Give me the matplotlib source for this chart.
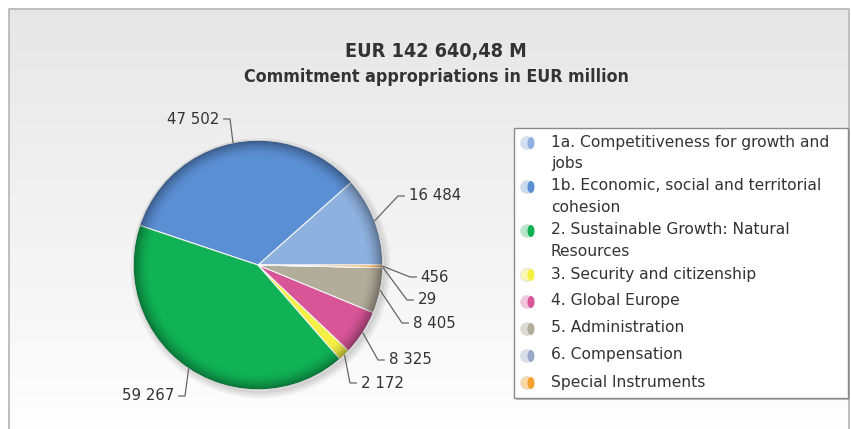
import numpy as np
import matplotlib
matplotlib.use('Agg')
import matplotlib.pyplot as plt
from matplotlib.patches import Circle, Ellipse, Rectangle

# data
categories = ['1a. Competitiveness for growth and\njobs',
              '1b. Economic, social and territorial\ncohesion',
              '2. Sustainable Growth: Natural\nResources',
              '3. Security and citizenship',
              '4. Global Europe',
              '5. Administration',
              '6. Compensation',
              'Special Instruments']
values = [16484, 47502, 59267, 2172, 8325, 8405, 29, 456]
value_labels = ['16 484', '47 502', '59 267', '2 172', '8 325', '8 405', '29', '456']
colors = ['#8eb1df', '#5b8fd4', '#10b255', '#f4ef45', '#d85598', '#b2ac9b', '#9aa8c8', '#f5a030']
light_colors = ['#d3e0f2', '#c9d9f0', '#b8e6c9', '#faf7b5', '#f2c3db', '#dcdad3', '#d8dde9', '#f9d6a6']
title = 'EUR 142 640,48 M'
subtitle = 'Commitment appropriations in EUR million'

# label elbow positions (pie-radius units)
elbows = [(1.12, 0.552), (-0.224, 1.168), (-0.584, -1.048), (0.736, -0.944),
          (0.96, -0.76), (1.152, -0.464), (1.192, -0.28), (1.216, -0.096)]

W, H = 851, 429
fig = plt.figure(figsize=(W / 100, H / 100), dpi=100)
fig.patch.set_facecolor('white')

# background panel with gradient
bg = fig.add_axes([0, 0, 1, 1])
grad = np.linspace(0, 1, 256).reshape(-1, 1)
top = np.array([0.905, 0.905, 0.905])
bot = np.array([0.995, 0.995, 0.995])
img = top + (bot - top) * grad[..., None]
bg.imshow(img, extent=[9, 848, H, 9], aspect='auto', zorder=0)
bg.plot([8.5, 8.5, 848.5, 848.5], [H, 8.5, 8.5, H], color='#b4b4b4', lw=1.2, zorder=1)
bg.set_xlim(0, W)
bg.set_ylim(H, 0)
bg.axis('off')

bg.text(436, 51, title, ha='center', va='center', fontsize=14.2, fontweight='bold',
        fontstretch='condensed', color='#333333')
bg.text(436, 77, subtitle, ha='center', va='center', fontsize=12.8, fontweight='bold',
        fontstretch='condensed', color='#333333')

# pie
cx, cy, R = 258, 265, 125
ax = fig.add_axes([(cx - R) / W, (H - cy - R) / H, 2 * R / W, 2 * R / H])

# soft shadow
for i, a in enumerate([0.05, 0.05, 0.06]):
    ax.add_patch(Circle((0.02, -0.025), 1.0 + 0.02 * (2 - i), color='black', alpha=a,
                        lw=0, zorder=0, clip_on=False))

wedges, _ = ax.pie(values, colors=colors, startangle=0, counterclock=True,
                   radius=1, wedgeprops=dict(edgecolor='#f4f4f4', linewidth=0.8))
for w in wedges:
    w.set_zorder(2)

# rim shading
n = 400
xx, yy = np.meshgrid(np.linspace(-1, 1, n), np.linspace(-1, 1, n))
rr = np.hypot(xx, yy)
alpha = np.clip((rr - 0.86) / 0.14, 0, 1) ** 1.8 * 0.38
shade = np.zeros((n, n, 4))
shade[..., 3] = alpha
im = ax.imshow(shade, extent=[-1, 1, -1, 1], origin='lower', zorder=3, interpolation='bilinear')
clip = Circle((0, 0), 1.0, transform=ax.transData)
im.set_clip_path(clip)
ax.add_patch(Circle((0, 0), 1.0, fill=False, edgecolor='#d6d6d6', lw=1.0, zorder=4))

# labels with leader lines
total = sum(values)
start = 0.0
for v, lab, (ex, ey) in zip(values, value_labels, elbows):
    mid = np.deg2rad(start + v / total * 180)
    start += v / total * 360
    axx, ayy = np.cos(mid), np.sin(mid)
    side = 1 if ex > 0 else -1
    hx = ex + side * 0.05
    ax.plot([axx, ex, hx], [ayy, ey, ey], color='#666666', lw=0.9, zorder=5, clip_on=False)
    ax.text(hx + side * 0.035, ey, lab, ha='left' if side > 0 else 'right', va='center',
            fontsize=10.8, color='#333333', clip_on=False)

ax.set_xlim(-1, 1)
ax.set_ylim(-1, 1)
ax.set_aspect('auto')
ax.axis('off')

# legend box
lx0, ly0, lx1, ly1 = 514, 128, 848, 398
bg.add_patch(Rectangle((lx0 + 2, ly0 + 2), lx1 - lx0, ly1 - ly0, facecolor='#9a9a9a',
                       edgecolor='none', alpha=0.6, zorder=2))
bg.add_patch(Rectangle((lx0, ly0), lx1 - lx0, ly1 - ly0, facecolor='white',
                       edgecolor='#8a8a8a', lw=1.0, zorder=3))
y = 142
for cat, c, lc in zip(categories, colors, light_colors):
    bg.add_patch(Circle((527, y + 1), 6.5, facecolor=lc, edgecolor='#e0e0e0', lw=0.6, zorder=4))
    bg.add_patch(Ellipse((531, y + 1), 7, 12, facecolor=c, edgecolor='none', zorder=5))
    lines = cat.split('\n')
    for k, line in enumerate(lines):
        bg.text(551, y + 21.5 * k, line, ha='left', va='center', fontsize=11.2,
                color='#333333', zorder=6)
    y += 44 if len(lines) == 2 else 27

fig.savefig('out.png', dpi=100)
